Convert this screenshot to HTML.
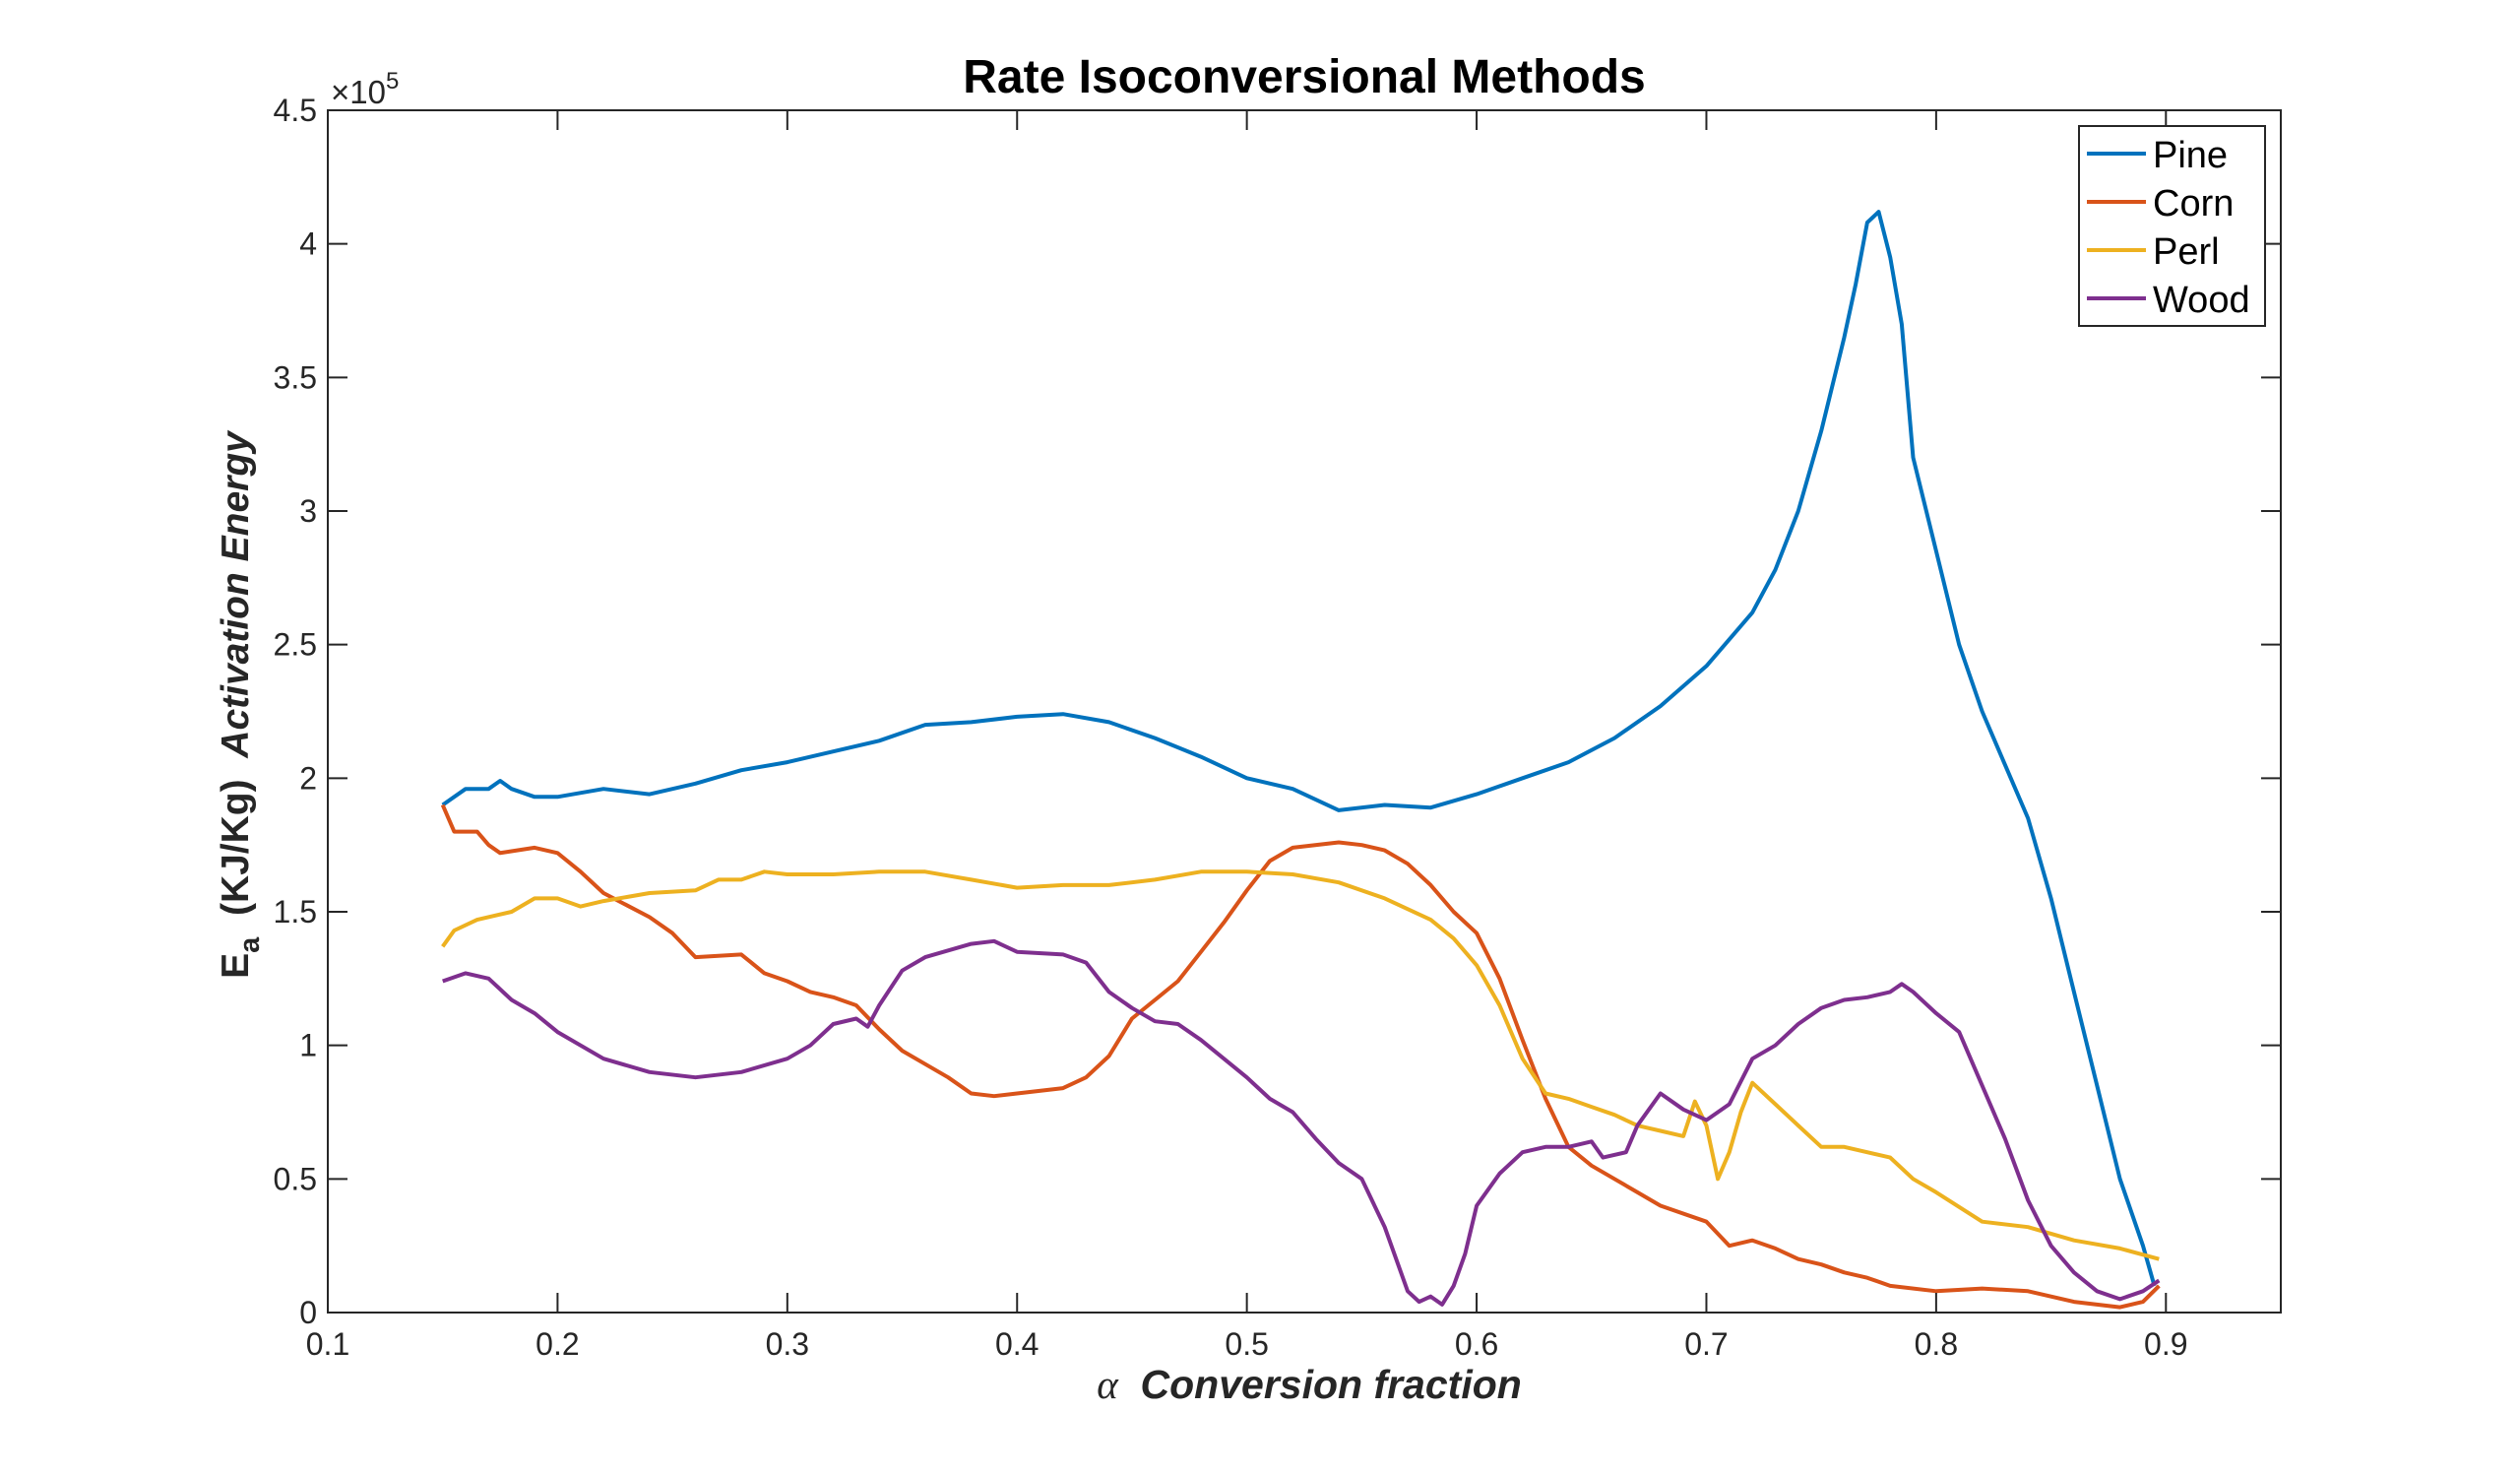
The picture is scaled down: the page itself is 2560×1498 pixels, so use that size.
<!DOCTYPE html>
<html><head><meta charset="utf-8"><style>
html,body{margin:0;padding:0;background:#fff;}
svg{display:block;font-family:"Liberation Sans",Arial,sans-serif;}
</style></head><body>
<svg id="chart" width="2560" height="1498" viewBox="0 0 2560 1498" xmlns="http://www.w3.org/2000/svg">
<rect width="2560" height="1498" fill="#fff"/>
<g id="grid"></g>
<g id="series"></g>
<rect x="333" y="112" width="1984" height="1221" fill="none" stroke="#262626" stroke-width="2"/>
<g id="ticks"></g>
<text x="1325" y="94" text-anchor="middle" font-size="48" font-weight="bold" fill="#000">Rate Isoconversional Methods</text>
<text x="336" y="105" font-size="33" fill="#262626">×10<tspan dy="-15" font-size="24">5</tspan></text>
<text x="1330" y="1420" text-anchor="middle" font-size="41" font-weight="bold" font-style="italic" fill="#262626" xml:space="preserve"><tspan font-family="Liberation Serif" font-weight="normal">α</tspan>  Conversion fraction</text>
<text transform="translate(252,716) rotate(-90)" text-anchor="middle" font-size="39" font-weight="bold" fill="#262626" xml:space="preserve">E<tspan dy="11" font-size="29">a</tspan><tspan dy="-11">  (KJ/Kg)  </tspan><tspan font-style="italic">Activation Energy</tspan></text>
<g>
<rect x="2112" y="128" width="189" height="203" fill="#fff" stroke="#262626" stroke-width="2"/>
<line x1="2120" y1="156" x2="2180" y2="156" stroke="#0072BD" stroke-width="4"/>
<text x="2187" y="170" font-size="38">Pine</text>
<line x1="2120" y1="205" x2="2180" y2="205" stroke="#D95319" stroke-width="4"/>
<text x="2187" y="219" font-size="38">Corn</text>
<line x1="2120" y1="254" x2="2180" y2="254" stroke="#EDB120" stroke-width="4"/>
<text x="2187" y="268" font-size="38">Perl</text>
<line x1="2120" y1="303" x2="2180" y2="303" stroke="#7E2F8E" stroke-width="4"/>
<text x="2187" y="317" font-size="38">Wood</text>
</g>
</svg>
<script>
const xTicks = [0.1,0.2,0.3,0.4,0.5,0.6,0.7,0.8,0.9];
const yTicks = [0,0.5,1,1.5,2,2.5,3,3.5,4,4.5];
const yTickLabels = ["0","0.5","1","1.5","2","2.5","3","3.5","4","4.5"];
const pineX = [0.15,0.16,0.17,0.175,0.18,0.19,0.2,0.22,0.24,0.26,0.28,0.3,0.32,0.34,0.36,0.38,0.4,0.42,0.44,0.46,0.48,0.5,0.52,0.54,0.56,0.58,0.6,0.62,0.64,0.66,0.68,0.7,0.72,0.73,0.74,0.75,0.76,0.765,0.77,0.775,0.78,0.785,0.79,0.8,0.81,0.82,0.83,0.84,0.85,0.86,0.87,0.88,0.89,0.895];
const pineY = [1.9,1.96,1.96,1.99,1.96,1.93,1.93,1.96,1.94,1.98,2.03,2.06,2.1,2.14,2.2,2.21,2.23,2.24,2.21,2.15,2.08,2.0,1.96,1.88,1.9,1.89,1.94,2.0,2.06,2.15,2.27,2.42,2.62,2.78,3.0,3.3,3.65,3.85,4.08,4.12,3.95,3.7,3.2,2.85,2.5,2.25,2.05,1.85,1.55,1.2,0.85,0.5,0.25,0.1];
const cornX = [0.15,0.155,0.165,0.17,0.175,0.19,0.2,0.21,0.22,0.24,0.25,0.26,0.28,0.29,0.3,0.31,0.32,0.33,0.34,0.35,0.36,0.37,0.38,0.39,0.4,0.42,0.43,0.44,0.45,0.46,0.47,0.48,0.49,0.5,0.51,0.52,0.54,0.55,0.56,0.57,0.58,0.59,0.6,0.61,0.62,0.63,0.64,0.65,0.66,0.67,0.68,0.7,0.71,0.72,0.73,0.74,0.75,0.76,0.77,0.78,0.8,0.82,0.84,0.86,0.88,0.89,0.897];
const cornY = [1.9,1.8,1.8,1.75,1.72,1.74,1.72,1.65,1.57,1.48,1.42,1.33,1.34,1.27,1.24,1.2,1.18,1.15,1.06,0.98,0.93,0.88,0.82,0.81,0.82,0.84,0.88,0.96,1.1,1.17,1.24,1.35,1.46,1.58,1.69,1.74,1.76,1.75,1.73,1.68,1.6,1.5,1.42,1.25,1.02,0.8,0.62,0.55,0.5,0.45,0.4,0.34,0.25,0.27,0.24,0.2,0.18,0.15,0.13,0.1,0.08,0.09,0.08,0.04,0.02,0.04,0.1];
const perlX = [0.15,0.155,0.165,0.18,0.19,0.2,0.21,0.22,0.24,0.26,0.27,0.28,0.29,0.3,0.32,0.34,0.36,0.38,0.4,0.42,0.44,0.46,0.48,0.5,0.52,0.54,0.56,0.58,0.59,0.6,0.61,0.62,0.63,0.64,0.65,0.66,0.67,0.68,0.69,0.695,0.7,0.705,0.71,0.715,0.72,0.73,0.74,0.75,0.76,0.78,0.79,0.8,0.82,0.84,0.86,0.88,0.897];
const perlY = [1.37,1.43,1.47,1.5,1.55,1.55,1.52,1.54,1.57,1.58,1.62,1.62,1.65,1.64,1.64,1.65,1.65,1.62,1.59,1.6,1.6,1.62,1.65,1.65,1.64,1.61,1.55,1.47,1.4,1.3,1.15,0.95,0.82,0.8,0.77,0.74,0.7,0.68,0.66,0.79,0.7,0.5,0.6,0.75,0.86,0.78,0.7,0.62,0.62,0.58,0.5,0.45,0.34,0.32,0.27,0.24,0.2];
const woodX = [0.15,0.16,0.17,0.18,0.19,0.2,0.22,0.24,0.26,0.28,0.3,0.31,0.32,0.33,0.335,0.34,0.35,0.36,0.38,0.39,0.4,0.42,0.43,0.44,0.45,0.46,0.47,0.48,0.49,0.5,0.51,0.52,0.53,0.54,0.55,0.56,0.57,0.575,0.58,0.585,0.59,0.595,0.6,0.61,0.62,0.63,0.64,0.65,0.655,0.665,0.67,0.68,0.69,0.7,0.71,0.72,0.73,0.74,0.75,0.76,0.77,0.78,0.785,0.79,0.8,0.81,0.82,0.83,0.84,0.85,0.86,0.87,0.88,0.89,0.897];
const woodY = [1.24,1.27,1.25,1.17,1.12,1.05,0.95,0.9,0.88,0.9,0.95,1.0,1.08,1.1,1.07,1.15,1.28,1.33,1.38,1.39,1.35,1.34,1.31,1.2,1.14,1.09,1.08,1.02,0.95,0.88,0.8,0.75,0.65,0.56,0.5,0.32,0.08,0.04,0.06,0.03,0.1,0.22,0.4,0.52,0.6,0.62,0.62,0.64,0.58,0.6,0.7,0.82,0.76,0.72,0.78,0.95,1.0,1.08,1.14,1.17,1.18,1.2,1.23,1.2,1.12,1.05,0.85,0.65,0.42,0.25,0.15,0.08,0.05,0.08,0.12];

const X0=333, X1=2317, Y0=1333, Y1=112;
function sx(v){return X0+(v-0.1)/(0.95-0.1)*(X1-X0);}
function sy(v){return Y0-(v/4.5)*(Y0-Y1);}
const NS="http://www.w3.org/2000/svg";
const tg=document.getElementById('ticks');
function mk(tag,attrs,parent){const e=document.createElementNS(NS,tag);for(const k in attrs)e.setAttribute(k,attrs[k]);parent.appendChild(e);return e;}
xTicks.forEach((t,i)=>{
  const x=sx(t);
  const a=mk('line',{x1:x,y1:Y0,x2:x,y2:Y0-20,stroke:'#262626','stroke-width':2},tg);
  
  
  const b=mk('line',{x1:x,y1:Y1,x2:x,y2:Y1+20,stroke:'#262626','stroke-width':2},tg);
  
  
  const l=mk('text',{x:x,y:1376,'text-anchor':'middle','font-size':32,fill:'#262626'},tg);
  l.textContent=t.toFixed(1);
  
  
});
yTicks.forEach((t,i)=>{
  const y=sy(t);
  const a=mk('line',{x1:X0,y1:y,x2:X0+20,y2:y,stroke:'#262626','stroke-width':2},tg);
  
  
  const b=mk('line',{x1:X1,y1:y,x2:X1-20,y2:y,stroke:'#262626','stroke-width':2},tg);
  
  
  const l=mk('text',{x:322,y:y+11,'text-anchor':'end','font-size':32,fill:'#262626'},tg);
  l.textContent=yTickLabels[i];
  
  
});
const sg=document.getElementById('series');
[[pineX,pineY,'#0072BD','pine'],[cornX,cornY,'#D95319','corn'],[perlX,perlY,'#EDB120','perl'],[woodX,woodY,'#7E2F8E','wood']].forEach(s=>{
  const pts=s[0].map((x,i)=>sx(x).toFixed(1)+','+sy(s[1][i]).toFixed(1)).join(' ');
  const p=mk('polyline',{points:pts,fill:'none',stroke:s[2],'stroke-width':4,'stroke-linejoin':'round'},sg);
  
  
});
</script>
</body></html>
